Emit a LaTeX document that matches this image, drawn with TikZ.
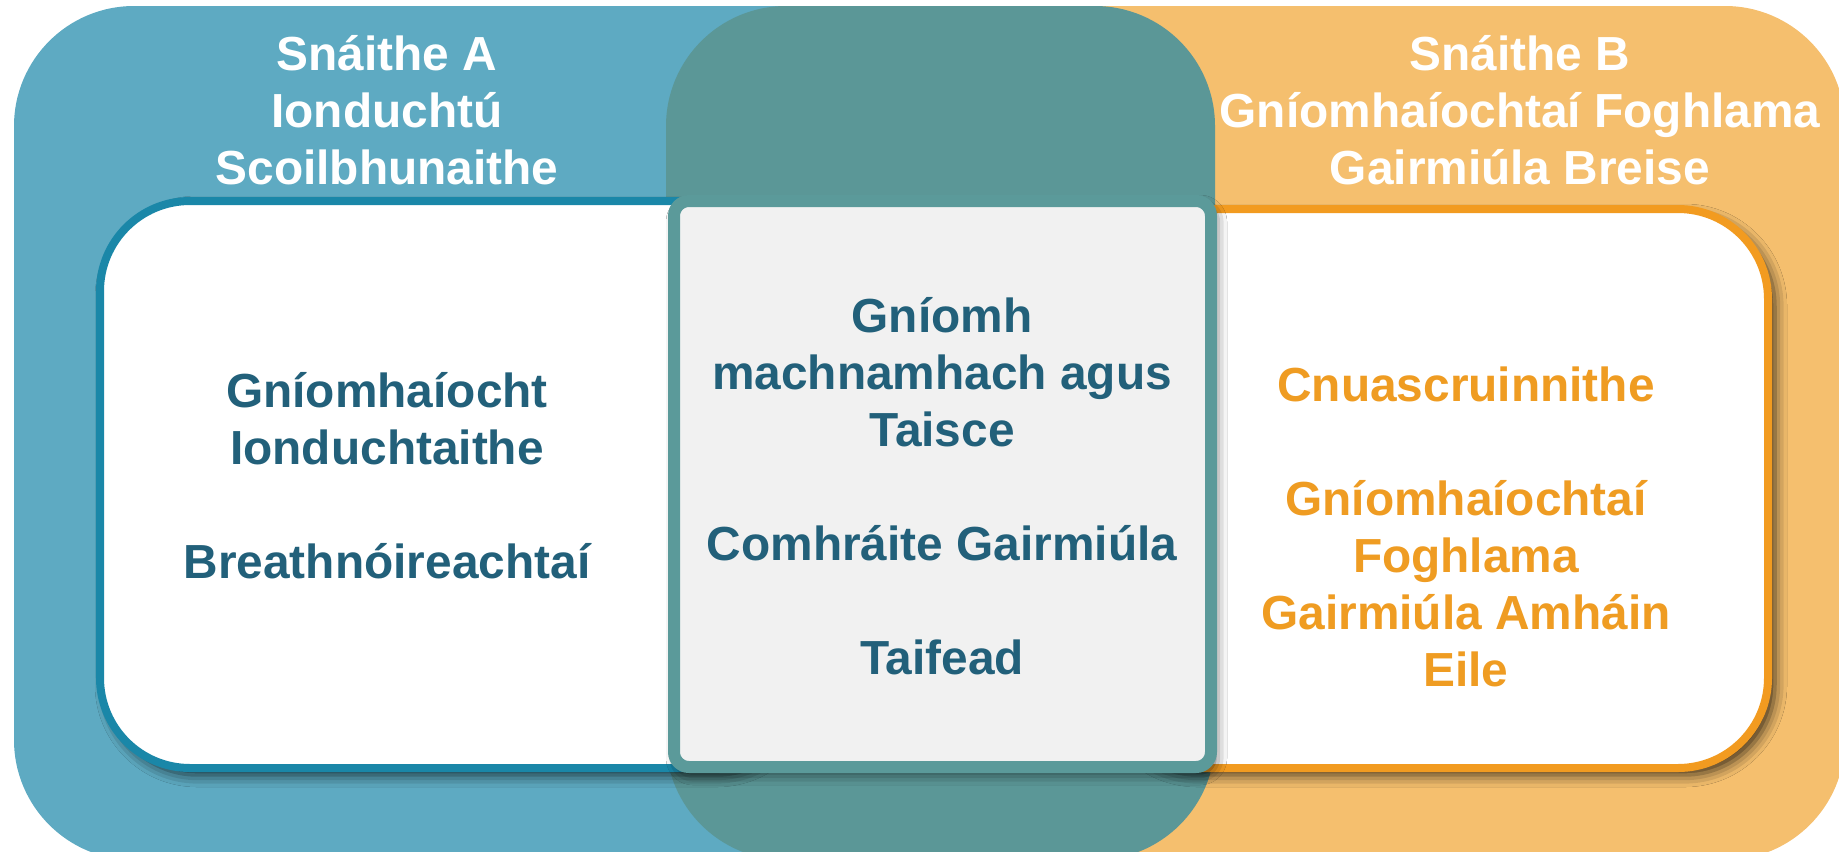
\documentclass[tikz,border=0pt]{standalone}
\usepackage{fontspec}
\setmainfont{Liberation Sans}
\usetikzlibrary{shadows.blur}
\definecolor{strandA}{HTML}{5EAAC2}
\definecolor{strandB}{HTML}{F5BF6E}
\definecolor{shared}{HTML}{5B9797}
\definecolor{lineA}{HTML}{1A87A8}
\definecolor{lineB}{HTML}{F29B20}
\definecolor{lineM}{HTML}{5B9A9A}
\definecolor{paper}{HTML}{F1F1F1}
\definecolor{inkA}{HTML}{22607A}
\definecolor{inkB}{HTML}{EF9C22}
\begin{document}
\begin{tikzpicture}[x=0.01cm,y=-0.01cm]
        \tikzstyle{band}=[rounded corners=1.2cm]
        \tikzstyle{panel}=[rounded corners=0.9cm, line width=0.08cm, fill=white,
                blur shadow={shadow xshift=0.07cm, shadow yshift=-0.07cm, shadow blur radius=0.12cm, shadow opacity=75}]
        \tikzstyle{core}=[rounded corners=0.15cm, line width=0.12cm, draw=lineM, fill=paper,
                blur shadow={shadow xshift=0.04cm, shadow yshift=-0.06cm, shadow blur radius=0.12cm, shadow opacity=70}]
        \tikzstyle{label}=[align=center, font=\bfseries\fontsize{13.6}{16.2}\selectfont]
        \useasboundingbox (0,0) rectangle (1839,851);
        \begin{scope}
                \fill [band, strandA] (14,6) rectangle (1000,860);
                \fill [band, strandB] (900,6) rectangle (1845,860);
                \fill [band, shared] (666,6) rectangle (1215,860);
                \draw [panel, draw=lineA] (100,201) rectangle (800,768);
                \draw [panel, draw=lineB] (1100,209) rectangle (1768,768);
                \draw [core] (674,201) rectangle (1211,767);
        \end{scope}
        \node [label, text=white] (titleA) at (387,110) {Snáithe A\\Ionduchtú\\Scoilbhunaithe};
        \node [label, text=white] (titleB) at (1520,110) {Snáithe B\\Gníomhaíochtaí Foghlama\\Gairmiúla Breise};
        \node [label, text=inkA] (itemsA) at (387,476) {Gníomhaíocht\\Ionduchtaithe\\[16.2pt]Breathnóireachtaí};
        \node [label, text=inkA] (itemsM) at (942,486) {Gníomh\\machnamhach agus\\Taisce\\[16.2pt]Comhráite Gairmiúla\\[16.2pt]Taifead};
        \node [label, text=inkB] (itemsB) at (1466,527) {Cnuascruinnithe\\[16.2pt]Gníomhaíochtaí\\Foghlama\\Gairmiúla Amháin\\Eile};
\end{tikzpicture}
\end{document}
